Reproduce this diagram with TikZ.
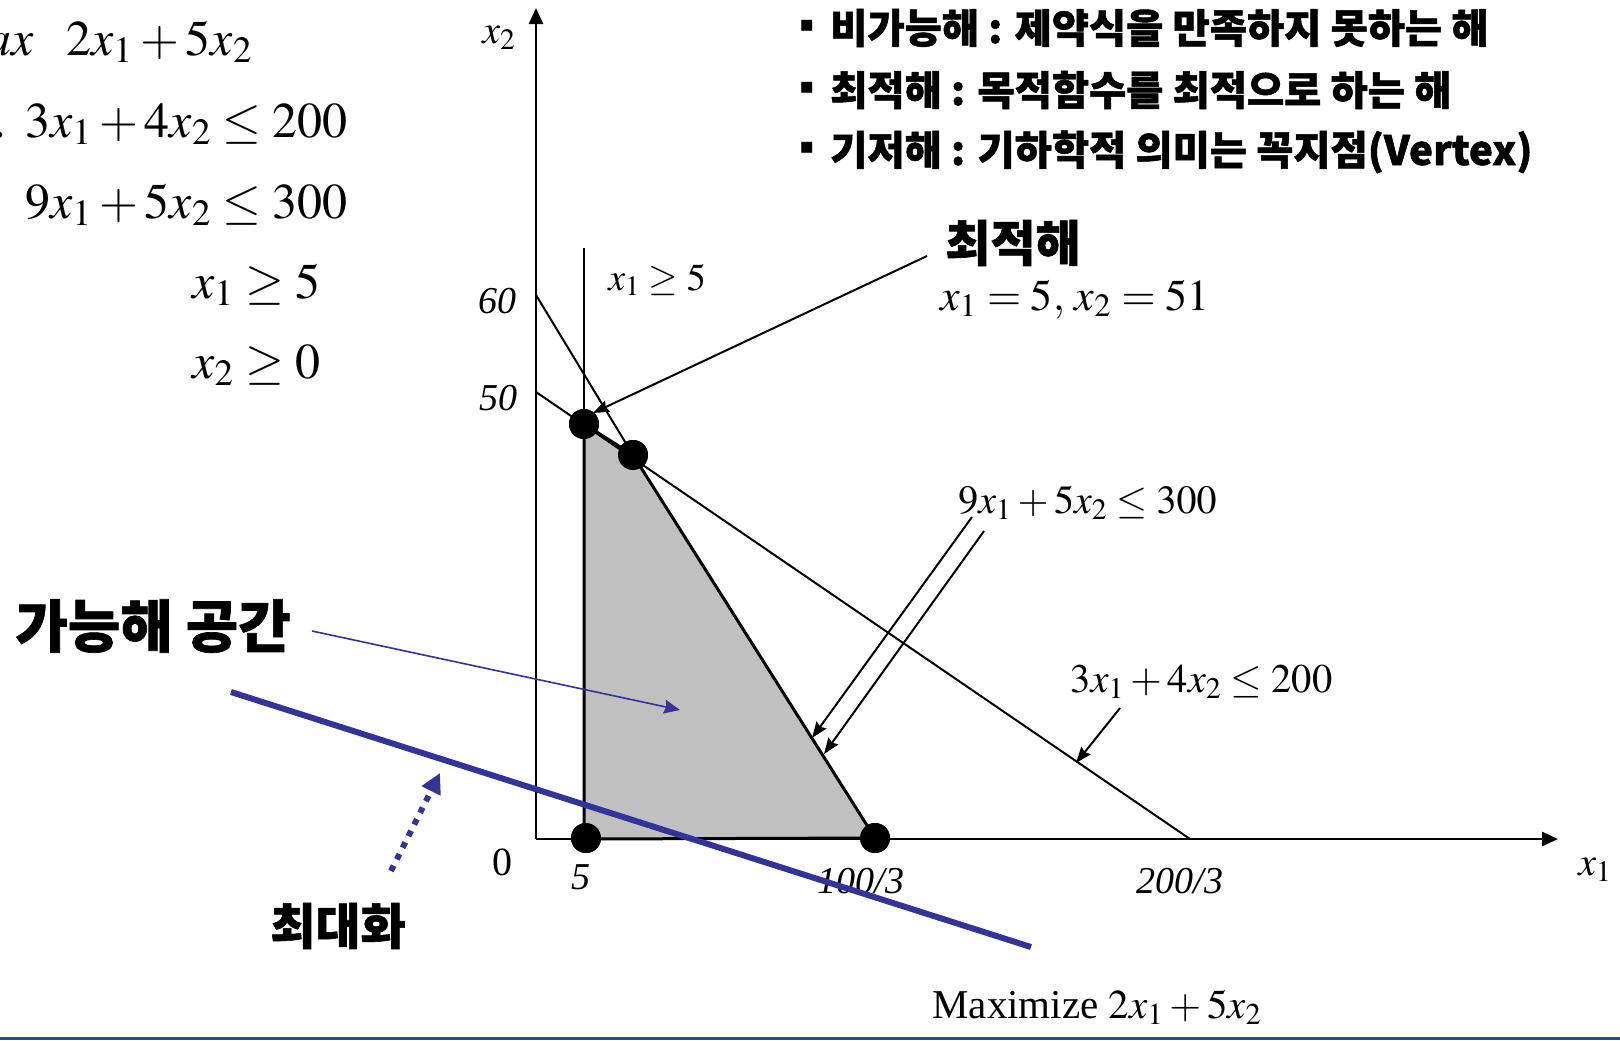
\documentclass[tikz,border=0pt]{standalone}
\usepackage{mathptmx}
\usepackage{fontspec}
\setmainfont{Liberation Serif}
\newfontfamily\kor{Noto Sans CJK KR}[BoldFeatures={FakeBold=1.2}]
\newfontfamily\sym{DejaVu Sans}
\usetikzlibrary{arrows.meta}
\definecolor{lpblue}{HTML}{333399}
\definecolor{feasgray}{HTML}{C0C0C0}
\definecolor{rulecol}{HTML}{2E4A8C}
\newcommand{\sqbul}{\raisebox{0.28em}{\sym\fontsize{11}{11}\selectfont ▪}}

\begin{document}
\begin{tikzpicture}[x=0.5pt, y=-0.5pt, >={Stealth[length=8pt,width=6pt,inset=1pt]},
  txt/.style={inner sep=0pt, font=\fontsize{20}{24}\selectfont},
  ticklbl/.style={inner sep=0pt, font=\fontsize{19}{22}\selectfont\itshape},
  big/.style={inner sep=0pt, font=\fontsize{25}{30}\selectfont},
  head/.style={inner sep=0pt, font=\kor\bfseries\fontsize{24.5}{28}\selectfont},
  bullet/.style={inner sep=0pt, anchor=west, font=\kor\bfseries\fontsize{20.2}{24}\selectfont},
  vertex/.style={circle, fill=black, inner sep=0pt, minimum size=15pt},
  cline/.style={line width=1pt},
  rim/.style={line width=1.5pt},
  axisline/.style={line width=1.3pt, -{Triangle[length=8pt,width=7pt]}},
  pointer/.style={line width=1pt, ->},
  bluepointer/.style={lpblue, line width=0.8pt, -{Stealth[length=8pt,width=7pt,inset=1pt]}}]
\useasboundingbox (0,0) rectangle (1620,1040);
\clip (0,0) rectangle (1620,1040);

% model
\node[big, anchor=base east] (obj) at (253,55) {$Max\hspace{0.65em}2x_1+5x_2$};
\node[big, anchor=base east] (c1) at (348,137) {s.t.\hspace{0.38em}$3x_1+4x_2\le 200$};
\node[big, anchor=base east] (c2) at (348,218) {$9x_1+5x_2\le 300$};
\node[big, anchor=base west] (c3) at (192,298) {$x_1\ge 5$};
\node[big, anchor=base west] (c4) at (192,378) {$x_2\ge 0$};

% definitions
\node[bullet] (b1) at (799,28) {\sqbul\, 비가능해 : 제약식을 만족하지 못하는 해};
\node[bullet] (b2) at (799,90) {\sqbul\, 최적해 : 목적함수를 최적으로 하는 해};
\node[bullet] (b3) at (799,152) {\sqbul\, 기저해 : 기하학적 의미는 꼭지점(Vertex)};

% graph
\coordinate (origin) at (536,839);
\coordinate (xend) at (1558,839);
\coordinate (yend) at (536,8);
\coordinate (a60) at (536,295);
\coordinate (b50) at (536,392);
\coordinate (b0) at (1190,839);
\coordinate (x5top) at (584,248);
\coordinate (x5bot) at (584,839);
\node[vertex] (v1) at (584,424) {};
\node[vertex] (v2) at (633,455) {};
\node[vertex] (v3) at (875,838) {};
\node[vertex] (v4) at (586,838) {};
\fill[feasgray] (v1.center) -- (v2.center) -- (v3.center) -- (x5bot) -- cycle;
\draw[cline] (x5top) -- (x5bot);
\draw[cline] (a60) -- (v2.center);
\draw[cline] (b50) -- (b0);
\draw[rim] (v1.center) -- (v2.center) -- (v3.center);
\draw[rim] (v1.center) -- (x5bot) -- (v3.center);
\draw[axisline] (origin) -- (xend);
\draw[axisline] (origin) -- (yend);
\node[vertex] at (v1) {};
\node[vertex] at (v2) {};
\node[vertex] at (v3) {};
\node[vertex] at (v4) {};

\node[txt, anchor=base west] (lx1) at (1578,875) {$x_1$};
\node[txt, anchor=base west] (lx2) at (482,43) {$x_2$};
\node[ticklbl, anchor=base east] (t60) at (517,313) {60};
\node[ticklbl, anchor=base east] (t50) at (518,410) {50};
\node[ticklbl, anchor=base, font=\fontsize{20}{24}\selectfont] (t0) at (502,875) {0};
\node[ticklbl, anchor=base] (t5) at (581,889) {5};
\node[ticklbl, anchor=base] (t100) at (861,893) {100/3};
\node[ticklbl, anchor=base] (t200) at (1180,893) {200/3};

\node[txt, anchor=base west, font=\fontsize{19}{22}\selectfont] (lbl5) at (608,290) {$x_1\ge 5$};
\node[txt, anchor=base west] (lbl300) at (958,513) {$9x_1+5x_2\le 300$};
\node[txt, anchor=base west, font=\fontsize{20.3}{24}\selectfont] (lbl200) at (1070,692) {$3x_1+4x_2\le 200$};

% optimum
\node[head] (optlbl) at (1013,243) {최적해};
\node[txt, anchor=base west, font=\fontsize{22}{26}\selectfont] (optval) at (940,310) {$x_1=5,\,x_2=51$};
\coordinate (optfrom) at (927,256);
\coordinate (optto) at (593,413);
\draw[pointer] (optfrom) -- (optto);

\coordinate (c300fromA) at (972,517);
\coordinate (c300toA) at (812,738);
\coordinate (c300fromB) at (984,531);
\coordinate (c300toB) at (824,754);
\coordinate (c200from) at (1120,708);
\coordinate (c200to) at (1076,763);
\draw[pointer] (c300fromA) -- (c300toA);
\draw[pointer] (c300fromB) -- (c300toB);
\draw[pointer] (c200from) -- (c200to);

% feasible region and objective
\node[head, font=\kor\bfseries\fontsize{28.5}{32}\selectfont] (feaslbl) at (153,626) {가능해 공간};
\coordinate (feasfrom) at (312,631);
\coordinate (feasto) at (680,710);
\draw[bluepointer] (feasfrom) -- (feasto);

\coordinate (objA) at (231,692);
\coordinate (objB) at (1031,947);
\draw[lpblue, line width=3pt] (objA) -- (objB);

\node[head] (maxlbl) at (338,926) {최대화};
\coordinate (upfrom) at (391,871);
\coordinate (upto) at (440,773);
\draw[lpblue, line width=3pt, dash pattern=on 3pt off 3.5pt, -{Triangle[length=10pt,width=10pt]}] (upfrom) -- (upto);

\node[txt, anchor=base west, font=\fontsize{20.5}{24}\selectfont] (maxtxt) at (932,1018) {Maximize $2x_1+5x_2$};

\coordinate (ruleL) at (0,1038);
\coordinate (ruleR) at (1620,1038);
\draw[rulecol, line width=1.5pt] (ruleL) -- (ruleR);
\end{tikzpicture}
\end{document}
